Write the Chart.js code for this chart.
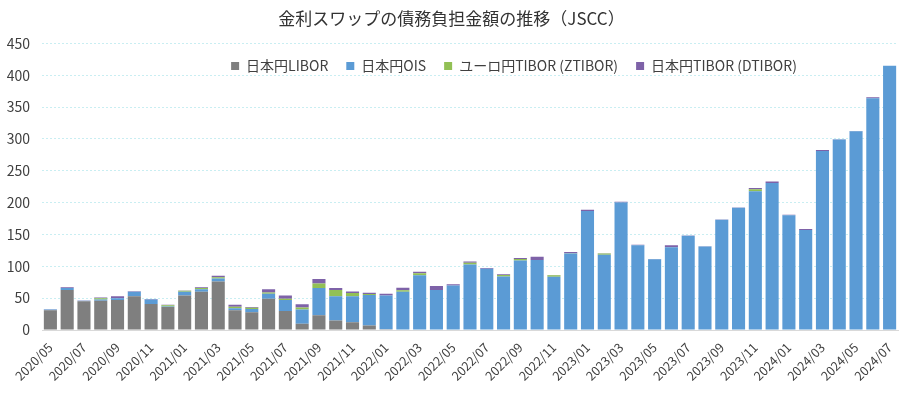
<!DOCTYPE html>
<html lang="ja">
<head>
<meta charset="utf-8">
<script src="https://cdn.jsdelivr.net/npm/chart.js@4"></script>
<style>
  html, body { margin: 0; padding: 0; background: #fff; }
  #wrap { width: 910px; height: 393px; }
</style>
</head>
<body>
<div id="wrap"><canvas id="chart-jscc"></canvas></div>
<script>
// ── データ（単位：兆円） ──────────────────────────────
const months = [
  '2020/05','2020/06','2020/07','2020/08','2020/09','2020/10','2020/11','2020/12',
  '2021/01','2021/02','2021/03','2021/04','2021/05','2021/06','2021/07','2021/08',
  '2021/09','2021/10','2021/11','2021/12','2022/01','2022/02','2022/03','2022/04',
  '2022/05','2022/06','2022/07','2022/08','2022/09','2022/10','2022/11','2022/12',
  '2023/01','2023/02','2023/03','2023/04','2023/05','2023/06','2023/07','2023/08',
  '2023/09','2023/10','2023/11','2023/12','2024/01','2024/02','2024/03','2024/04',
  '2024/05','2024/06','2024/07'
];
const yenLibor = [
  31, 63, 45, 46, 47, 53, 41, 36, 54, 60, 76, 31, 28, 49, 30, 10,
  23, 15, 12, 7, 1, 0, 0, 0, 0, 0, 0, 0, 0, 0, 0, 0,
  0, 0, 0, 0, 0, 0, 0, 0, 0, 0, 0, 0, 0, 0, 0, 0,
  0, 0, 0
];
const yenOis = [
  1, 3, 1, 2, 3, 7, 7, 1, 6, 4, 5, 3, 5, 8, 17, 22,
  43, 38, 41, 48, 53, 60, 86, 63, 70, 103, 96, 84, 109, 110, 83.5, 120,
  187, 118, 200, 133, 111, 130, 148, 131, 173, 192, 218, 231, 180, 157, 281, 299,
  312, 364, 415
];
const euroyenTibor = [
  0, 0, 0, 2, 0, 0, 0, 2, 1.5, 2, 2, 2.5, 2, 2, 2, 3.5,
  7, 10, 5, 1.5, 0, 2.5, 3, 0, 0, 2.5, 0, 2.5, 2.5, 0, 2.5, 0.5,
  0, 2, 0, 0, 0, 0, 0, 0, 0, 0, 3, 0, 0, 0, 0, 0,
  0, 0, 0
];
const yenTibor = [
  0.5, 1, 0.5, 1, 3, 1, 0.5, 0.5, 0.5, 1, 2, 3, 1, 5, 5, 5,
  7, 3, 2.5, 2, 3, 4, 2.5, 6, 2, 2, 1.5, 1, 1.5, 5, 0.5, 2,
  2, 0.5, 1.5, 1, 0.5, 3, 0.5, 0.5, 0.5, 0.5, 2, 2, 1, 1.5, 1.5, 0.5,
  0.5, 1.5, 0
];
const yTicks = [0, 50, 100, 150, 200, 250, 300, 350, 400, 450];

const FONT = "'Noto Sans CJK JP', 'Noto Sans', sans-serif";
const TEXT = '#404040';

// 凡例は横一列のままプロット内に重ねる（レイアウト上の高さは 0 にする）
const legendOverlay = {
  id: 'legendOverlay',
  beforeLayout(chart) {
    const lg = chart.legend;
    if (!lg || lg._overlay) return;
    const fit = lg.fit.bind(lg);
    lg.fit = function () { fit(); this._realHeight = this.height; this.height = 0; };
    lg._overlay = true;
  },
  afterLayout(chart) {
    const lg = chart.legend;
    if (!lg) return;
    const shift = 514 - (lg.left + lg.right) / 2;
    lg.left += shift; lg.right += shift;
    lg.top = 41; lg.bottom = lg.top + (lg._realHeight || 0);
  }
};

function makeDataset(label, data, color) {
  return { label, data, backgroundColor: color, borderWidth: 0, categoryPercentage: 1, barPercentage: 0.78 };
}

new Chart(document.getElementById('chart-jscc'), {
  type: 'bar',
  data: {
    labels: months,
    datasets: [
      makeDataset('日本円LIBOR', yenLibor, '#7f7f7f'),
      makeDataset('日本円OIS', yenOis, '#5b9bd5'),
      makeDataset('ユーロ円TIBOR (ZTIBOR)', euroyenTibor, '#92c055'),
      makeDataset('日本円TIBOR (DTIBOR)', yenTibor, '#7e62a8'),
    ],
  },
  options: {
    responsive: true, maintainAspectRatio: false, animation: false,
    layout: { padding: { left: 5, right: 12, top: 0, bottom: 0 } },
    plugins: {
      title: {
        display: true, text: '金利スワップの債務負担金額の推移（JSCC）',
        color: '#333', font: { family: FONT, size: 17, weight: 'normal' },
        padding: { top: 8, bottom: 15 },
      },
      legend: {
        display: true, position: 'top', align: 'center',
        labels: { color: TEXT, font: { family: FONT, size: 14 }, boxWidth: 8, boxHeight: 8, padding: 18 },
      },
      tooltip: { enabled: false },
    },
    scales: {
      x: {
        stacked: true,
        grid: { display: false },
        border: { color: '#d9d9d9' },
        afterFit: s => { s.height = 63; s.paddingLeft = 0; s.paddingRight = 0; },
        ticks: {
          color: TEXT, font: { family: FONT, size: 12.5 },
          autoSkip: false, maxRotation: 45, minRotation: 45, padding: 2,
          callback: (v, i) => (i % 2 === 0 ? months[i] : ''),
        },
      },
      y: {
        stacked: true, min: 0, max: 450,
        afterBuildTicks: axis => { axis.ticks = yTicks.map(v => ({ value: v })); },
        afterFit: s => { s.width = 37; },
        grid: { color: '#c9eef2', drawTicks: false },
        border: { display: false, dash: [2, 2] },
        ticks: { color: TEXT, font: { family: FONT, size: 14 }, padding: 12 },
      },
    },
  },
  plugins: [legendOverlay],
});
</script>
</body>
</html>
